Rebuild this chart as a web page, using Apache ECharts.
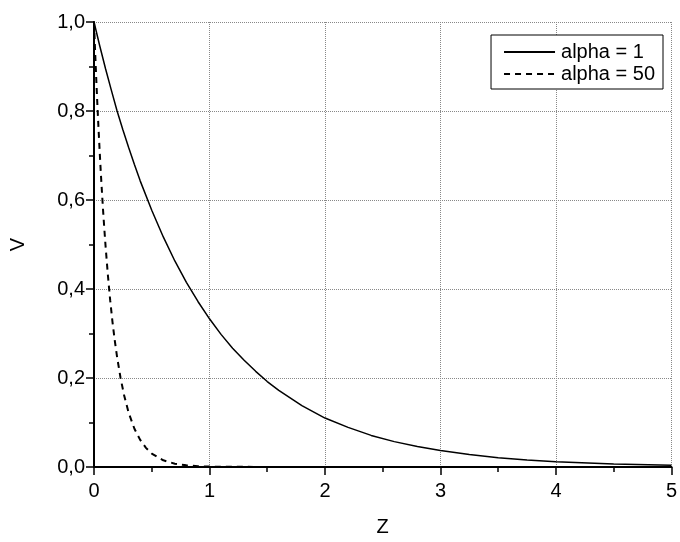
<!DOCTYPE html>
<html>
<head>
<meta charset="utf-8">
<script src="https://cdn.jsdelivr.net/npm/echarts@6/dist/echarts.min.js"></script>
<style>
  html, body { margin: 0; padding: 0; background: #fff; }
  #chart { width: 680px; height: 542px; }
</style>
</head>
<body>
<div id="chart"></div>
<script>
// values
const zSolid = [0, 0.05, 0.1, 0.15, 0.2, 0.25, 0.3, 0.35, 0.4, 0.5, 0.6, 0.7, 0.8, 0.9, 1.0, 1.1, 1.2, 1.3, 1.4, 1.5, 1.6, 1.8, 2.0, 2.2, 2.4, 2.6, 2.8, 3.0, 3.25, 3.5, 3.75, 4.0, 4.5, 5.0]
const vSolid = [1.0, 0.946, 0.895, 0.847, 0.80, 0.758, 0.718, 0.68, 0.643, 0.577, 0.517, 0.463, 0.415, 0.372, 0.333, 0.298, 0.267, 0.24, 0.215, 0.192, 0.172, 0.138, 0.11, 0.089, 0.071, 0.057, 0.046, 0.037, 0.028, 0.021, 0.016, 0.012, 0.007, 0.004]

const zDash = [0, 0.01, 0.02, 0.03, 0.04, 0.05, 0.06, 0.07, 0.08, 0.09, 0.1, 0.12, 0.14, 0.16, 0.18, 0.2, 0.23, 0.26, 0.3, 0.35, 0.4, 0.45, 0.5, 0.6, 0.7, 0.8, 0.9, 1.0, 1.5, 2.0, 3.0, 4.0, 5.0]
const vDash = [1.0, 0.932, 0.869, 0.81, 0.756, 0.705, 0.657, 0.613, 0.571, 0.533, 0.497, 0.432, 0.375, 0.326, 0.284, 0.247, 0.2, 0.162, 0.122, 0.086, 0.061, 0.043, 0.03, 0.015, 0.0074, 0.0037, 0.0018, 0.0009, 0, 0, 0, 0, 0]

const seriesNames = ['alpha = 1', 'alpha = 50']

const pairs = (xs, ys) => xs.map((x, i) => [x, ys[i]])

const myChart = echarts.init(document.getElementById('chart'))

const fmt = v => v.toFixed(1).replace('.', ',')

// plain frame axes for the top and right edges of the box
const frameAxis = (position, min, max) => ({
  type: 'value',
  position,
  min,
  max,
  axisLine: { show: true, lineStyle: { color: '#000', width: 1.5 } },
  axisTick: { show: false },
  axisLabel: { show: false },
  splitLine: { show: false }
})

const option = {
  animation: false,
  textStyle: { fontFamily: 'Liberation Sans, Arial, sans-serif' },
  grid: { left: 89, right: 7, top: 22, bottom: 74 },
  legend: {
    data: seriesNames,
    orient: 'vertical',
    right: 17,
    top: 35,
    padding: [7, 8, 5, 12],
    itemGap: 2,
    itemWidth: 51,
    itemHeight: 10,
    borderColor: '#000',
    borderWidth: 1,
    backgroundColor: '#fff',
    itemStyle: { opacity: 0 },
    textStyle: { color: '#000', fontSize: 20, padding: [0, 0, 0, 1] }
  },
  xAxis: [
    {
      type: 'value',
      position: 'bottom',
      min: 0,
      max: 5,
      interval: 1,
      name: 'Z',
      nameLocation: 'middle',
      nameGap: 50,
      nameTextStyle: { color: '#000', fontSize: 20 },
      axisLine: { show: true, lineStyle: { color: '#000', width: 2 } },
      axisTick: { show: true, inside: false, length: 8, lineStyle: { color: '#000', width: 1.5 } },
      minorTick: { show: true, splitNumber: 2, length: 5, lineStyle: { color: '#000', width: 1.5 } },
      axisLabel: { color: '#000', fontSize: 20, margin: 14 },
      splitLine: { show: true, lineStyle: { color: '#888', type: 'dotted', width: 1 } }
    },
    frameAxis('top', 0, 5)
  ],
  yAxis: [
    {
      type: 'value',
      position: 'left',
      min: 0,
      max: 1,
      interval: 0.2,
      name: 'V',
      nameLocation: 'middle',
      nameGap: 66,
      nameRotate: 90,
      nameTextStyle: { color: '#000', fontSize: 20 },
      axisLine: { show: true, lineStyle: { color: '#000', width: 2 } },
      axisTick: { show: true, inside: false, length: 8, lineStyle: { color: '#000', width: 1.5 } },
      minorTick: { show: true, splitNumber: 2, length: 5, lineStyle: { color: '#000', width: 1.5 } },
      axisLabel: { color: '#000', fontSize: 20, margin: 9, formatter: fmt },
      splitLine: { show: true, lineStyle: { color: '#888', type: 'dotted', width: 1 } }
    },
    frameAxis('right', 0, 1)
  ],
  series: [
    {
      name: seriesNames[0],
      type: 'line',
      symbol: 'none',
      itemStyle: { color: '#000' },
      lineStyle: { color: '#000', width: 1.5, type: 'solid' },
      data: pairs(zSolid, vSolid)
    },
    {
      name: seriesNames[1],
      type: 'line',
      symbol: 'none',
      itemStyle: { color: '#000' },
      lineStyle: { color: '#000', width: 2, type: [6, 5] },
      data: pairs(zDash, vDash)
    }
  ]
}

myChart.setOption(option)
</script>
</body>
</html>
